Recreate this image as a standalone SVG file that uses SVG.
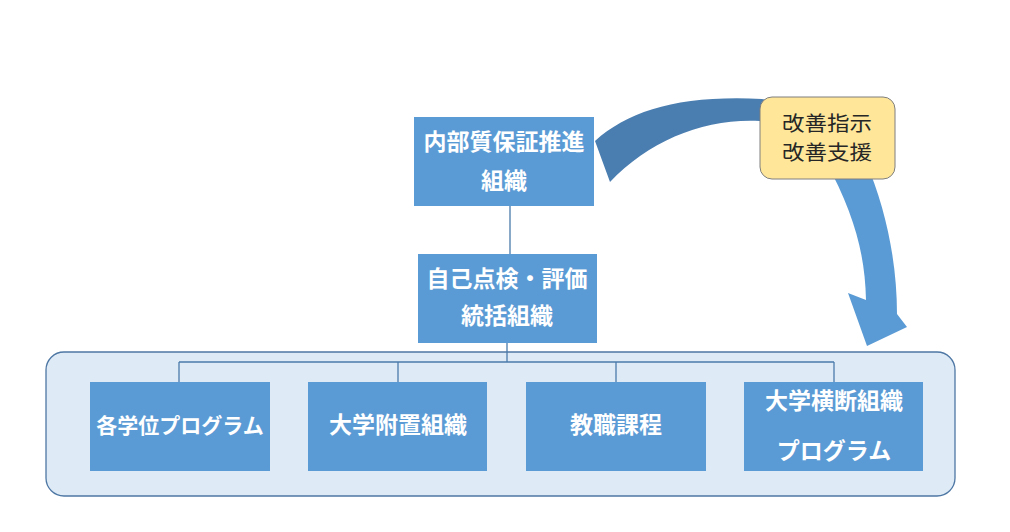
<svg xmlns="http://www.w3.org/2000/svg" width="1010" height="532" viewBox="0 0 1010 532">
<style>
.box{fill:#5B9BD5;}
.t{font-family:"Noto Sans CJK JP","Noto Sans",sans-serif;font-weight:bold;fill:#ffffff;text-anchor:middle;font-size:23px;}
.c{font-family:"Noto Sans CJK JP","Noto Sans",sans-serif;fill:#262626;text-anchor:middle;font-size:20px;}
.ln{stroke:#4A7AAA;stroke-width:1.3;fill:none;}
</style>
<rect width="1010" height="532" fill="#ffffff"/>
<g id="container">
<rect x="46" y="352" width="909" height="144" rx="18" fill="#DEEBF7" stroke="#4E77A4" stroke-width="1.3"/>
</g>
<g id="connectors">
<line class="ln" x1="510" y1="206" x2="510" y2="254"/>
<line class="ln" x1="507" y1="343" x2="507" y2="362"/>
<line class="ln" x1="179" y1="362" x2="834" y2="362"/>
<line class="ln" x1="179" y1="362" x2="179" y2="382"/>
<line class="ln" x1="398" y1="362" x2="398" y2="382"/>
<line class="ln" x1="616" y1="362" x2="616" y2="382"/>
<line class="ln" x1="834" y1="362" x2="834" y2="382"/>
</g>
<g id="curved-arrow">
<path d="M595,141 C630,110 680,95 762,99 L810,108 L810,135 L760,121 C705,118 650,140 610,182 Z" fill="#4A7DB0"/>
<path d="M825,160 L865,160 C887,210 897,265 897,314 L907,327 L867,346 L848,293 L866,300 C865,255 855,215 825,160 Z" fill="#5B9BD5"/>
</g>
<g id="node-top">
<rect class="box" x="414" y="117" width="180" height="89"/>
<text class="t" x="504" y="150">内部質保証推進</text>
<text class="t" x="504" y="189">組織</text>
</g>
<g id="node-self">
<rect class="box" x="418" y="254" width="179" height="89"/>
<text class="t" x="507" y="287">自己点検・評価</text>
<text class="t" x="507" y="324">統括組織</text>
</g>
<g id="callout">
<rect x="760" y="97" width="135" height="82" rx="12" fill="#FFE699" stroke="#7F7F7F" stroke-width="1"/>
<text class="c" x="827" y="131" textLength="90" lengthAdjust="spacingAndGlyphs">改善指示</text>
<text class="c" x="827" y="160" textLength="90" lengthAdjust="spacingAndGlyphs">改善支援</text>
</g>
<g id="node-degree">
<rect class="box" x="90" y="382" width="180" height="89"/>
<text class="t" x="180" y="433" style="font-size:21px">各学位プログラム</text>
</g>
<g id="node-affiliated">
<rect class="box" x="308" y="382" width="179" height="89"/>
<text class="t" x="398" y="433">大学附置組織</text>
</g>
<g id="node-teacher">
<rect class="box" x="526" y="382" width="180" height="89"/>
<text class="t" x="616" y="433">教職課程</text>
</g>
<g id="node-cross">
<rect class="box" x="744" y="382" width="179" height="89"/>
<text class="t" x="834" y="409">大学横断組織</text>
<text class="t" x="834" y="459">プログラム</text>
</g>
</svg>
